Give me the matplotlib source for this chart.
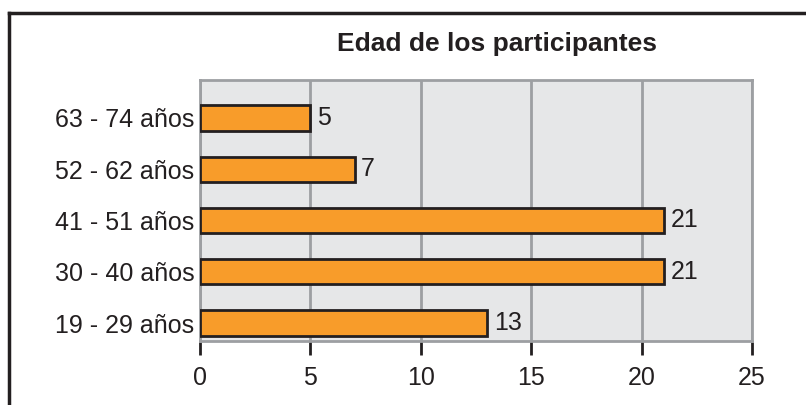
import matplotlib
matplotlib.use("Agg")
import matplotlib.pyplot as plt
from matplotlib.lines import Line2D

# data
categorias = ["19 - 29 años", "30 - 40 años", "41 - 51 años", "52 - 62 años", "63 - 74 años"]
valores = [13, 21, 21, 7, 5]
xticks = [0, 5, 10, 15, 20, 25]

plt.rcParams['font.family'] = ['Liberation Sans', 'DejaVu Sans']

fig = plt.figure(figsize=(8.06, 4.05), dpi=100)
ax = fig.add_axes([200/806, 64/405, 552/806, 261/405])
ax.set_facecolor('#e6e7e8')

pos = list(range(len(categorias)))
ax.barh(pos, valores, height=0.49, color='#f89c2a', edgecolor='#231f20', linewidth=2, zorder=3)

for p, v in zip(pos, valores):
    ax.text(v + 0.3, p, str(v), va='center', ha='left', fontsize=18, color='#231f20')

ax.set_xlim(0, 25)
ax.set_ylim(-0.35, 4.74)
ax.set_xticks(xticks)
ax.set_yticks(pos)
ax.set_yticklabels(categorias)
ax.grid(axis='x', color='#9d9fa2', linewidth=2, zorder=1)
ax.set_axisbelow(True)
for s in ax.spines.values():
    s.set_color('#9d9fa2')
    s.set_linewidth(2)
ax.tick_params(axis='x', length=10, width=2, color='#231f20', labelsize=18, pad=8, labelcolor='#231f20')
ax.tick_params(axis='y', length=0, labelsize=18, pad=4, labelcolor='#231f20')

fig.text(497/806, 1 - 44/405, "Edad de los participantes", ha='center', va='center',
         fontsize=19, fontweight='bold', color='#231f20')

# frame lines (top and left)
fig.add_artist(Line2D([9/806, 9/806], [0, 1 - 13/405], color='#231f20', linewidth=2.5, transform=fig.transFigure))
fig.add_artist(Line2D([9/806, 1], [1 - 13/405, 1 - 13/405], color='#231f20', linewidth=2.5, transform=fig.transFigure))

fig.savefig("out.png", dpi=100)
